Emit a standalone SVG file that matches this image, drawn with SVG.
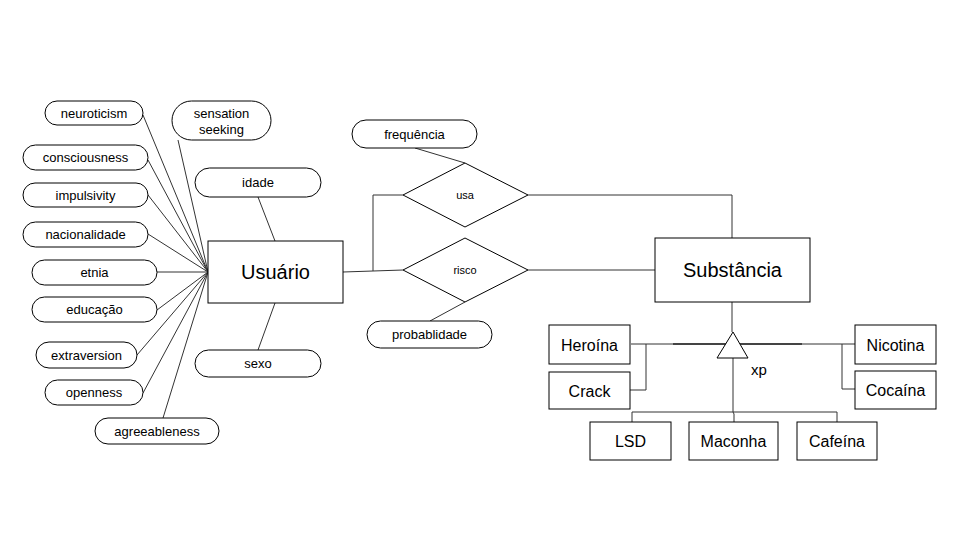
<svg xmlns="http://www.w3.org/2000/svg" width="960" height="540" viewBox="0 0 960 540">
<style>
.b{fill:#fff;stroke:#000;stroke-width:1}
.l{fill:none;stroke:#333;stroke-width:1}
.t{font-family:"Liberation Sans",Arial,sans-serif;fill:#000;text-anchor:middle;dominant-baseline:central}
.a{font-size:13px}
.e{font-size:20px}
.s{font-size:16px}
.r{font-size:11px}
</style>
<rect width="960" height="540" fill="#fff"/>
<g id="connectors">
<path class="l" d="M143,115L208,272M178,140L208,272M148,160L208,272M148,195L208,272M148,234L208,272M157,272L208,272M157,310L208,272M137,355L208,272M143,393L208,272M163,418L208,272"/>
<path class="l" d="M258,197L275,241M275,303L258,350"/>
<path class="l" d="M343,272L373,271L403,270M373,271L373,195L403,195"/>
<path class="l" d="M415,148L465,163M430,321L465,302"/>
<path class="l" d="M528,195L732,195L732,238M528,270L655,270M732,302L732,332"/>
<path class="l" d="M631,344L855,344M646,344L646,390L630,390M842,344L842,389L855,389"/>
<path d="M673,344L802,344" stroke="#444" stroke-width="2" fill="none"/>
<path class="l" d="M733,358L733,412M632,423L632,412L837,412L837,423M733,412L734,414L734,423"/>
</g>
<g id="usuario"><rect class="b" x="208" y="241" width="135" height="62"/><text class="t e" x="275.5" y="272">Usuário</text></g>
<g id="substancia"><rect class="b" x="655" y="238" width="155" height="64"/><text class="t e" x="732.5" y="270">Substância</text></g>
<g id="neuroticism"><rect class="b" x="45" y="101" width="98" height="24" rx="12"/><text class="t a" x="94" y="113">neuroticism</text></g>
<g id="sensation"><rect class="b" x="172" y="101" width="99" height="39" rx="19.5"/><text class="t a" x="221.5" y="113">sensation</text><text class="t a" x="221.5" y="129">seeking</text></g>
<g id="consciousness"><rect class="b" x="23" y="145" width="125" height="25" rx="12.5"/><text class="t a" x="85.5" y="157.5">consciousness</text></g>
<g id="impulsivity"><rect class="b" x="23" y="183" width="125" height="24" rx="12"/><text class="t a" x="85.5" y="195">impulsivity</text></g>
<g id="nacionalidade"><rect class="b" x="23" y="222" width="125" height="25" rx="12.5"/><text class="t a" x="85.5" y="234.5">nacionalidade</text></g>
<g id="etnia"><rect class="b" x="32" y="260" width="125" height="25" rx="12.5"/><text class="t a" x="94.5" y="272.5">etnia</text></g>
<g id="educacao"><rect class="b" x="32" y="297" width="125" height="25" rx="12.5"/><text class="t a" x="94.5" y="309.5">educação</text></g>
<g id="extraversion"><rect class="b" x="36" y="342" width="101" height="26" rx="13"/><text class="t a" x="86.5" y="355">extraversion</text></g>
<g id="openness"><rect class="b" x="45" y="380" width="98" height="25" rx="12.5"/><text class="t a" x="94" y="392.5">openness</text></g>
<g id="agreeableness"><rect class="b" x="95" y="418" width="124" height="26" rx="13"/><text class="t a" x="157" y="431">agreeableness</text></g>
<g id="idade"><rect class="b" x="195" y="168" width="126" height="29" rx="14.5"/><text class="t a" x="258" y="182.5">idade</text></g>
<g id="sexo"><rect class="b" x="195" y="350" width="126" height="27" rx="13.5"/><text class="t a" x="258" y="363.5">sexo</text></g>
<g id="frequencia"><rect class="b" x="352" y="120" width="125" height="28" rx="14"/><text class="t a" x="414.5" y="134">frequência</text></g>
<g id="probablidade"><rect class="b" x="367" y="321" width="125" height="27" rx="13.5"/><text class="t a" x="429.5" y="334.5">probablidade</text></g>
<g id="usa"><polygon class="b" points="465,163 528,195 465,227 403,195"/><text class="t r" x="465" y="195">usa</text></g>
<g id="risco"><polygon class="b" points="465,238 528,270 465,302 403,270"/><text class="t r" x="465" y="270">risco</text></g>
<g id="xp"><polygon class="b" points="733,332 748,358 717,358"/><text class="t a" x="759" y="369" style="font-size:15px">xp</text></g>
<g id="heroina"><rect class="b" x="549" y="325" width="81" height="39"/><text class="t s" x="589.5" y="345">Heroína</text></g>
<g id="crack"><rect class="b" x="549" y="372" width="81" height="37"/><text class="t s" x="589.5" y="391">Crack</text></g>
<g id="nicotina"><rect class="b" x="855" y="325" width="81" height="39"/><text class="t s" x="895.5" y="345">Nicotina</text></g>
<g id="cocaina"><rect class="b" x="855" y="371" width="81" height="38"/><text class="t s" x="895.5" y="390">Cocaína</text></g>
<g id="lsd"><rect class="b" x="590" y="422" width="81" height="38"/><text class="t s" x="630.5" y="441">LSD</text></g>
<g id="maconha"><rect class="b" x="689" y="422" width="89" height="38"/><text class="t s" x="733.5" y="441">Maconha</text></g>
<g id="cafeina"><rect class="b" x="797" y="422" width="80" height="38"/><text class="t s" x="837" y="441">Cafeína</text></g>
</svg>
